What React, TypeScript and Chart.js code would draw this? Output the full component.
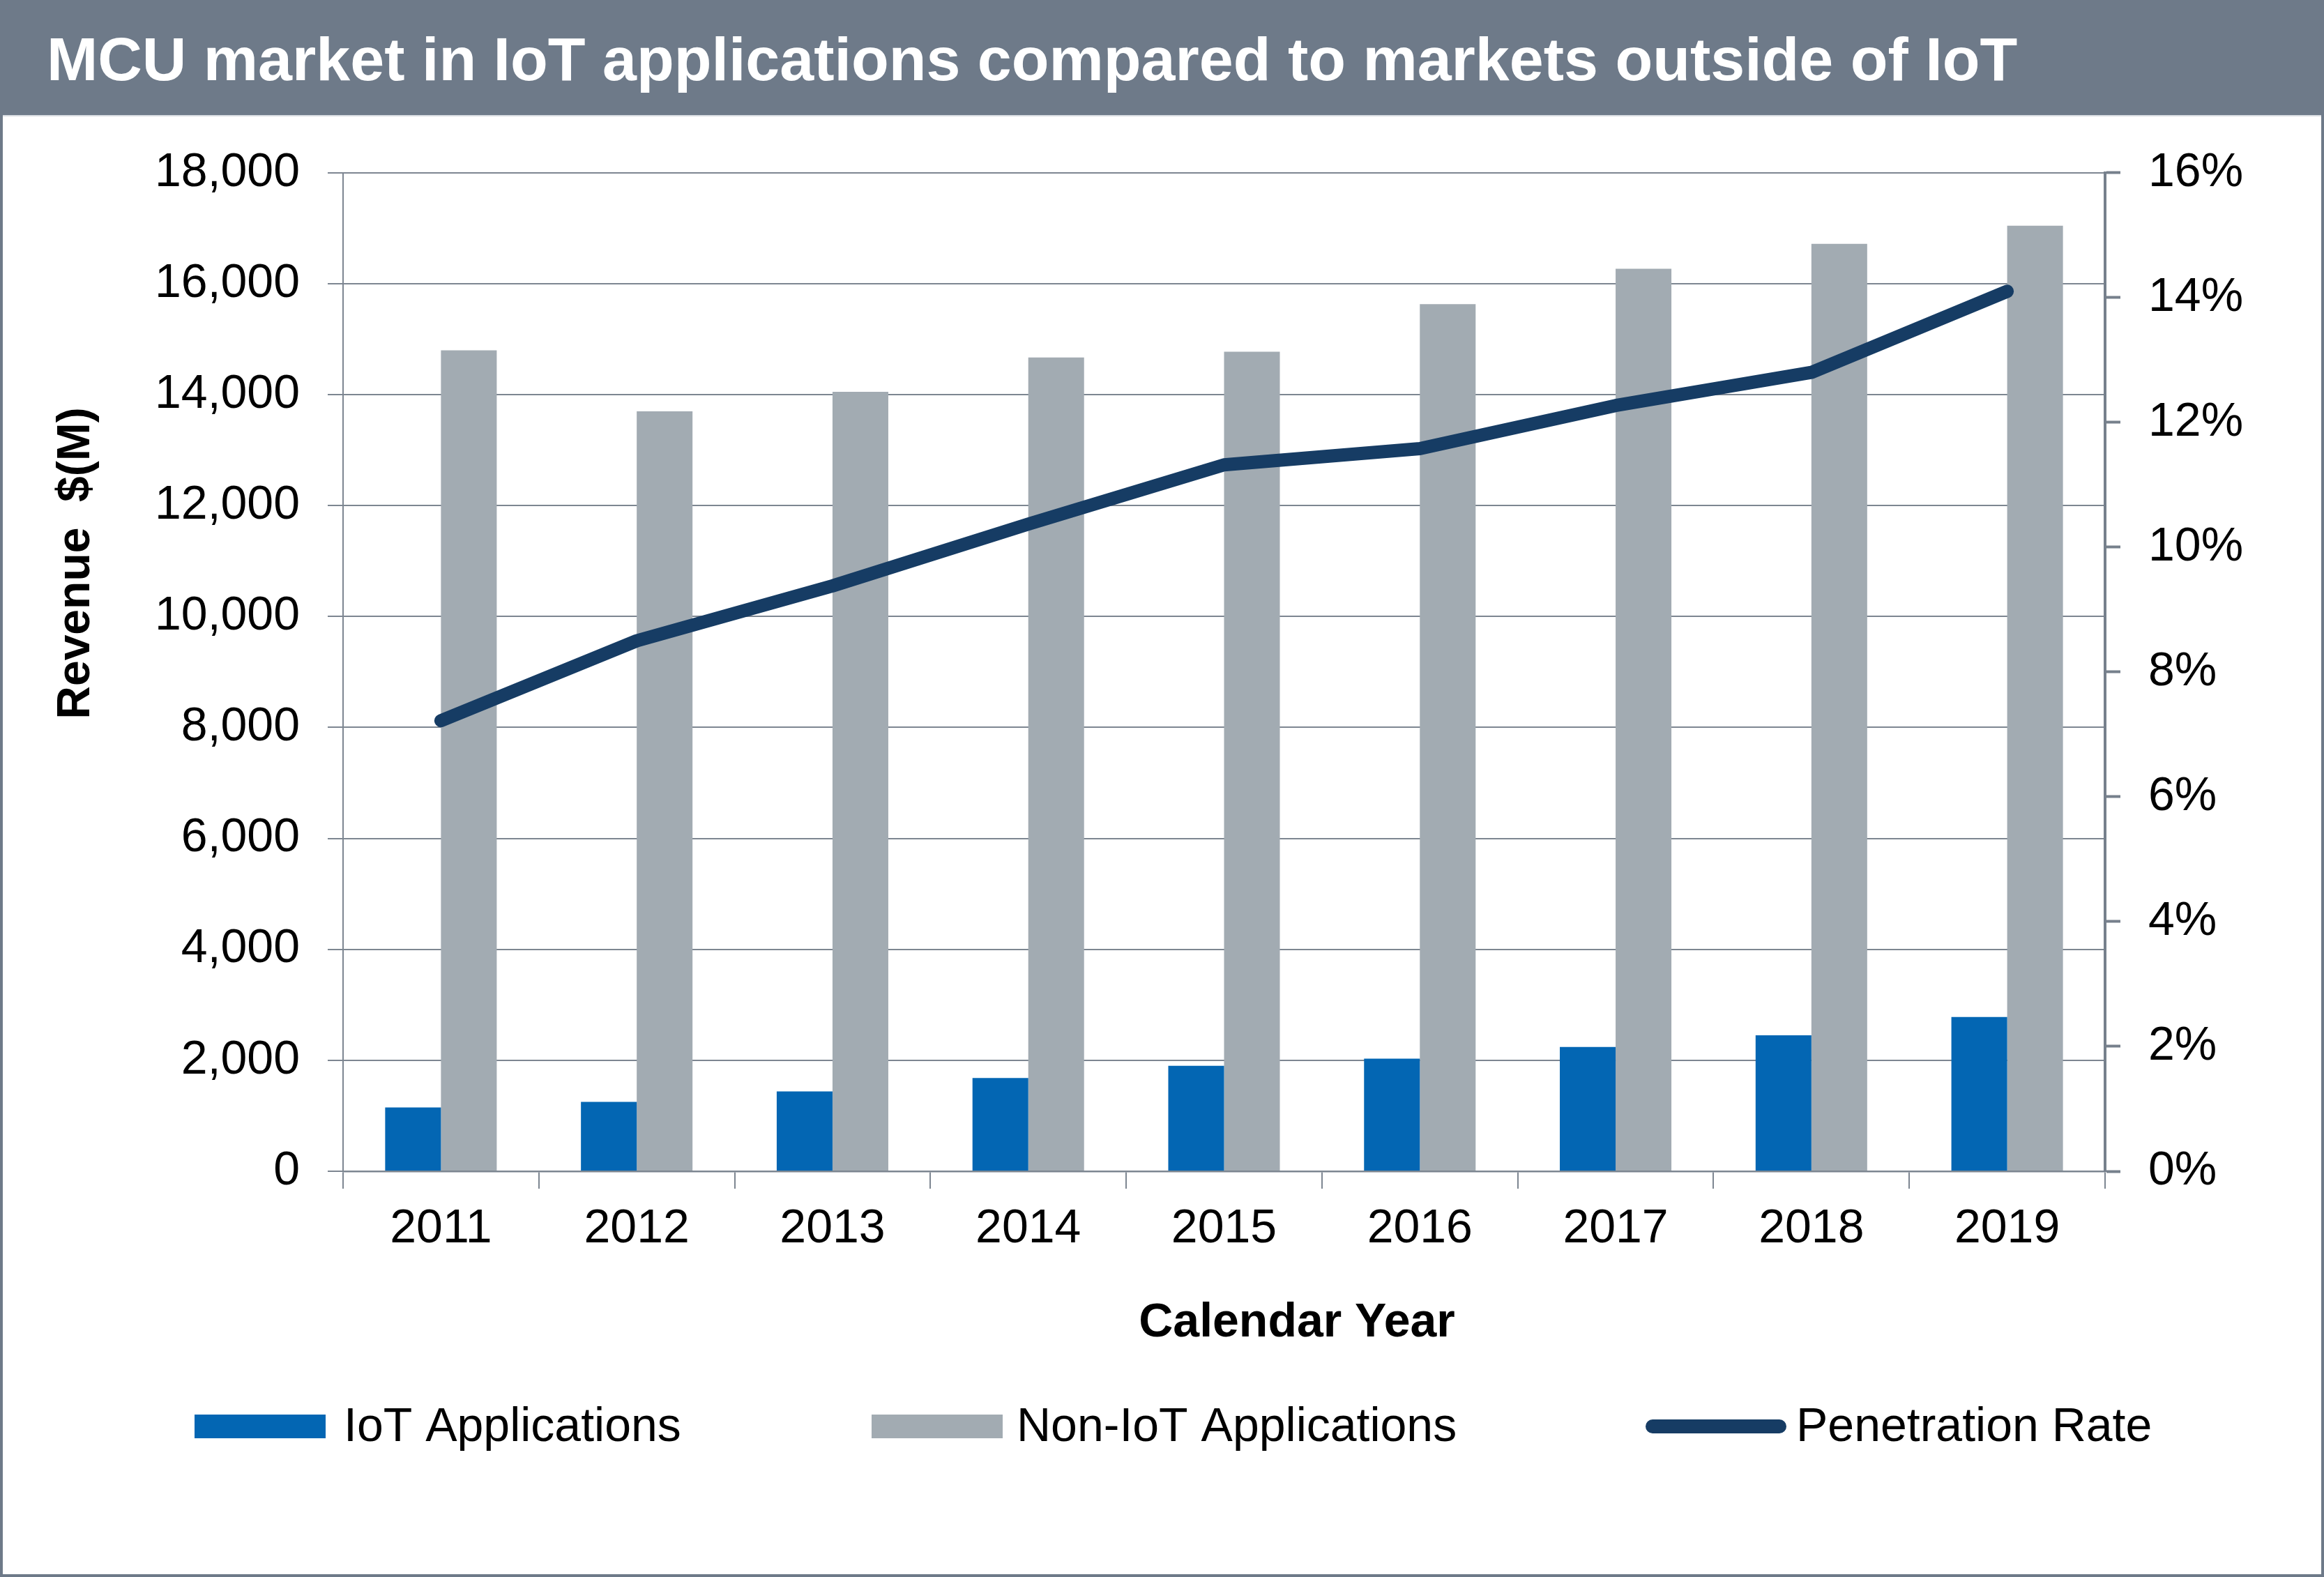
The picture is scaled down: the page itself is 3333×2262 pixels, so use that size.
import React, { useEffect, useRef } from "react";
import { Chart, registerables } from "chart.js";

Chart.register(...registerables);

// ---- Data ----
const categories = ["2011", "2012", "2013", "2014", "2015", "2016", "2017", "2018", "2019"];
const iotRevenue = [1150, 1250, 1440, 1680, 1900, 2030, 2240, 2450, 2780];
const nonIotRevenue = [14800, 13700, 14050, 14670, 14775, 15630, 16270, 16720, 17045];
const penetrationRate = [7.22, 8.5, 9.38, 10.37, 11.32, 11.58, 12.27, 12.8, 14.1];
const seriesLabels = ["IoT Applications", "Non-IoT Applications", "Penetration Rate"];
const revenueAxis = { min: 0, max: 18000, step: 2000 };
const rateAxis = { min: 0, max: 16, step: 2 };

const titleText = "MCU market in IoT applications compared to markets outside of IoT";
const yTitle = "Revenue  $(M)";
const xTitle = "Calendar Year";

// ---- Styles ----
const FONT = '"Liberation Sans", Arial, Helvetica, sans-serif';
const FRAME = "#6e7a89";
const GRID = "#7d8691";
const AXIS_DARK = "#76808c";
const IOT_COLOR = "#0366b3";
const NONIOT_COLOR = "#a2abb2";
const LINE_COLOR = "#163c64";

const annotationPlugin = {
  id: "customLegendAndTitles",
  afterDraw(chart: any) {
    const ctx = chart.ctx;
    ctx.save();

    // axis titles
    ctx.fillStyle = "#000";
    ctx.font = `bold 66px ${FONT}`;
    ctx.textAlign = "center";
    ctx.textBaseline = "middle";
    ctx.save();
    ctx.translate(106, 641);
    ctx.rotate(-Math.PI / 2);
    ctx.fillText(yTitle, 0, 0);
    ctx.restore();

    ctx.font = `bold 68px ${FONT}`;
    ctx.fillText(xTitle, 1856, 1731);

    // legend
    const cy = 1879;
    const items = [
      { boxX: 275, boxW: 188, textX: 489 },
      { boxX: 1246, boxW: 188, textX: 1454 },
      { boxX: 2356, boxW: 202, textX: 2572 },
    ];
    ctx.font = `68px ${FONT}`;
    ctx.textBaseline = "middle";
    ctx.textAlign = "left";
    chart.data.datasets.forEach((ds: any, i: number) => {
      const it = items[i];
      if (!it) return;
      if (ds.type === "line") {
        ctx.strokeStyle = ds.borderColor;
        ctx.lineWidth = 20;
        ctx.lineCap = "round";
        ctx.beginPath();
        ctx.moveTo(it.boxX + 10, cy);
        ctx.lineTo(it.boxX + it.boxW - 10, cy);
        ctx.stroke();
      } else {
        ctx.fillStyle = ds.backgroundColor;
        ctx.fillRect(it.boxX, cy - 17, it.boxW, 34);
      }
      ctx.fillStyle = "#000";
      ctx.fillText(ds.label, it.textX, cy + 2);
    });
    ctx.restore();
  },
};

export default function App() {
  const ref = useRef<HTMLCanvasElement | null>(null);

  useEffect(() => {
    document.body.style.margin = "0";
    if (!ref.current) return;
    const chart = new Chart(ref.current, {
      type: "bar",
      data: {
        labels: categories,
        datasets: [
          {
            type: "bar",
            label: seriesLabels[0],
            data: iotRevenue,
            backgroundColor: IOT_COLOR,
            yAxisID: "y",
            order: 2,
            categoryPercentage: 0.57,
            barPercentage: 1,
          },
          {
            type: "bar",
            label: seriesLabels[1],
            data: nonIotRevenue,
            backgroundColor: NONIOT_COLOR,
            yAxisID: "y",
            order: 2,
            categoryPercentage: 0.57,
            barPercentage: 1,
          },
          {
            type: "line",
            label: seriesLabels[2],
            data: penetrationRate,
            borderColor: LINE_COLOR,
            backgroundColor: LINE_COLOR,
            borderWidth: 19,
            pointRadius: 0,
            borderCapStyle: "round",
            borderJoinStyle: "round",
            tension: 0,
            yAxisID: "y1",
            order: 0,
          } as any,
        ],
      },
      options: {
        animation: false,
        responsive: true,
        maintainAspectRatio: false,
        layout: { padding: { top: 80, bottom: 319, left: 0, right: 0 } },
        plugins: {
          legend: { display: false },
          tooltip: { enabled: false },
          title: { display: false },
        },
        scales: {
          x: {
            offset: true,
            grid: {
              display: true,
              offset: true,
              drawOnChartArea: false,
              drawTicks: true,
              tickLength: 25,
              color: GRID,
              lineWidth: 2,
            },
            border: { display: true, color: GRID, width: 2.5 },
            ticks: { color: "#000", font: { family: FONT, size: 68 }, padding: 17 },
            title: { display: false, text: xTitle },
            afterFit: (s: any) => {
              s.height = 259;
            },
          },
          y: {
            position: "left",
            min: revenueAxis.min,
            max: revenueAxis.max,
            grid: {
              color: GRID,
              lineWidth: 2,
              drawTicks: true,
              tickLength: 22,
            },
            border: { display: true, color: GRID, width: 2 },
            ticks: {
              stepSize: revenueAxis.step,
              color: "#000",
              font: { family: FONT, size: 68 },
              padding: 40,
              callback: (v: any) => Number(v).toLocaleString("en-US"),
            },
            title: { display: false, text: yTitle },
            afterFit: (s: any) => {
              s.width = 488;
            },
          },
          y1: {
            position: "right",
            min: rateAxis.min,
            max: rateAxis.max,
            grid: {
              drawOnChartArea: false,
              drawTicks: true,
              tickLength: 22,
              tickWidth: 4,
              tickColor: AXIS_DARK,
              color: AXIS_DARK,
            },
            border: { display: true, color: AXIS_DARK, width: 4 },
            ticks: {
              stepSize: rateAxis.step,
              color: "#000",
              font: { family: FONT, size: 68 },
              padding: 40,
              callback: (v: any) => `${v}%`,
            },
            afterFit: (s: any) => {
              s.width = 310;
            },
          },
        },
      } as any,
      plugins: [annotationPlugin],
    });
    return () => chart.destroy();
  }, []);

  return (
    <div
      style={{
        width: 3333,
        height: 2262,
        boxSizing: "border-box",
        borderLeft: `4px solid ${FRAME}`,
        borderRight: `4px solid ${FRAME}`,
        borderBottom: `4px solid ${FRAME}`,
        background: "#fff",
        overflow: "hidden",
        position: "relative",
      }}
    >
      <div
        style={{
          height: 167,
          background: FRAME,
          color: "#fff",
          fontFamily: FONT,
          fontWeight: "bold",
          fontSize: 88,
          lineHeight: "167px",
          paddingLeft: 63,
          whiteSpace: "nowrap",
          boxSizing: "border-box",
          position: "relative",
          borderBottom: "2px solid #d9dde2",
        }}
      >
        <span style={{ position: "relative", top: 1 }}>{titleText}</span>
      </div>
      <div style={{ position: "relative", width: 3325, height: 2091 }}>
        <canvas ref={ref} />
      </div>
    </div>
  );
}
